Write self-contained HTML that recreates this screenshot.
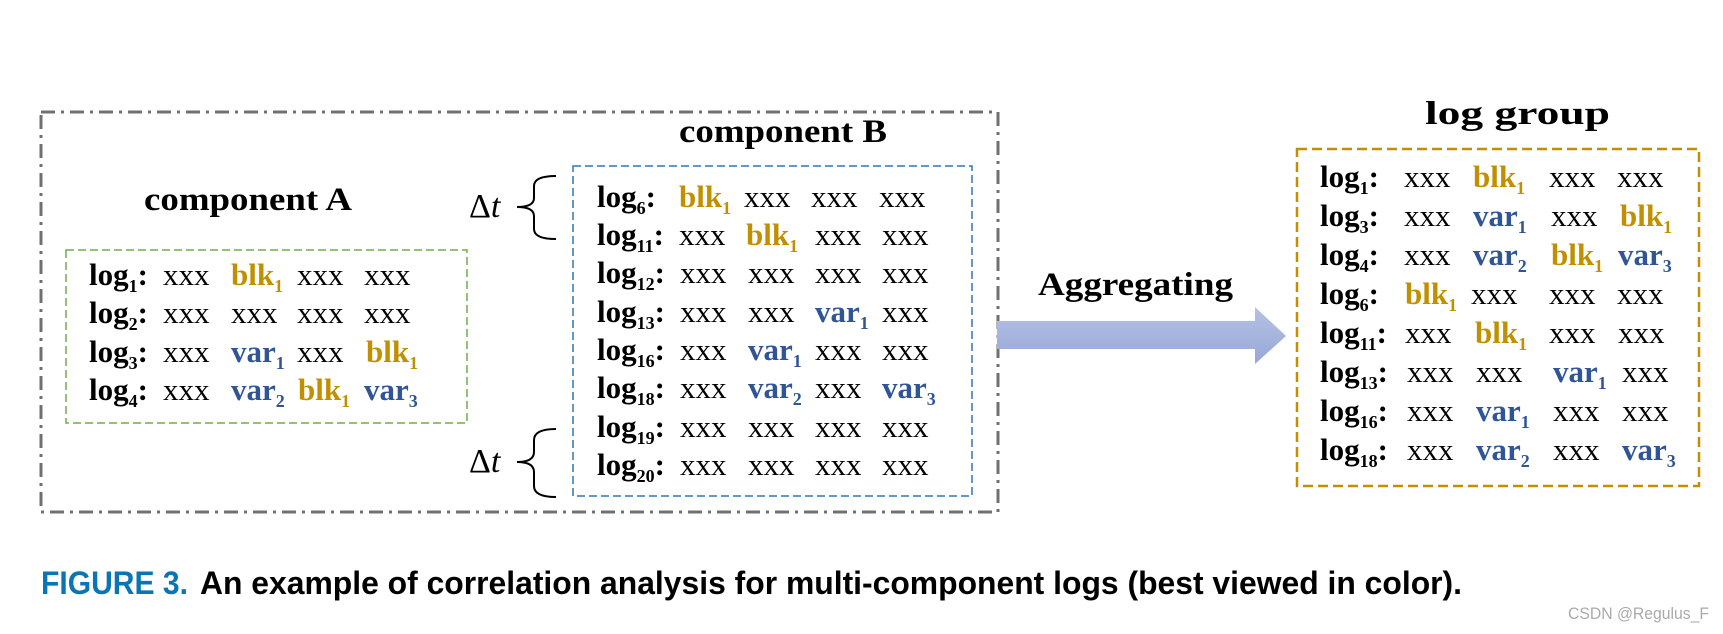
<!DOCTYPE html>
<html><head><meta charset="utf-8"><style>
html,body{margin:0;padding:0;background:#fff}
svg{display:block}
text{font-family:"Liberation Serif",serif;font-size:31px;fill:#000}
.b{font-weight:bold}
.s{font-size:18px}
.g{fill:#C09000;font-weight:bold}
.v{fill:#2F5597;font-weight:bold}
.t{font-weight:bold;font-size:33px}
</style></head><body>
<svg width="1723" height="634" viewBox="0 0 1723 634" xmlns="http://www.w3.org/2000/svg">
<defs><linearGradient id="ag" x1="0" y1="0" x2="0" y2="1"><stop offset="0" stop-color="#b6c2e4"/><stop offset="1" stop-color="#97a7d7"/></linearGradient></defs>
<!-- boxes -->
<rect x="41" y="112" width="957" height="400" fill="none" stroke="#707070" stroke-width="3" stroke-dasharray="14,6,3,6"/>
<rect x="66" y="250" width="401" height="173" fill="none" stroke="#70AD47" stroke-width="1.5" stroke-dasharray="8,4"/>
<rect x="573" y="166" width="399" height="330" fill="none" stroke="#2E75B6" stroke-width="1.5" stroke-dasharray="8,4"/>
<rect x="1297" y="149" width="402" height="337" fill="none" stroke="#C09000" stroke-width="2.5" stroke-dasharray="10,5"/>
<!-- arrow -->
<path d="M997,321 L1255,321 L1255,307 L1286,336 L1255,364 L1255,349 L997,349 Z" fill="url(#ag)"/>
<!-- braces -->
<path d="M556,176 Q534,176 534,186 L534,198 Q534,207 517,207 Q534,207 534,216 L534,229 Q534,239 556,239" fill="none" stroke="#000" stroke-width="2"/>
<path d="M556,429 Q534,429 534,440 L534,452 Q534,462 517,462 Q534,462 534,472 L534,486 Q534,497 556,497" fill="none" stroke="#000" stroke-width="2"/>
<text x="469" y="217" style="font-size:34px">Δ<tspan font-style="italic">t</tspan></text>
<text x="469" y="472" style="font-size:34px">Δ<tspan font-style="italic">t</tspan></text>
<!-- titles -->
<text class="t" x="144" y="210" textLength="208" lengthAdjust="spacingAndGlyphs">component A</text>
<text class="t" x="679" y="142" textLength="208" lengthAdjust="spacingAndGlyphs">component B</text>
<text class="t" x="1425" y="124" textLength="185" lengthAdjust="spacingAndGlyphs">log group</text>
<text class="t" x="1038" y="295" textLength="195" lengthAdjust="spacingAndGlyphs">Aggregating</text>

<!-- component A -->
<text class="b" x="89" y="285">log<tspan class="s" dy="7">1</tspan><tspan dy="-7">:</tspan></text>
<text x="163" y="285">xxx</text><text class="g" x="231" y="285">blk<tspan class="s" dy="7">1</tspan></text><text x="297" y="285">xxx</text><text x="364" y="285">xxx</text>
<text class="b" x="89" y="323">log<tspan class="s" dy="7">2</tspan><tspan dy="-7">:</tspan></text>
<text x="163" y="323">xxx</text><text x="231" y="323">xxx</text><text x="297" y="323">xxx</text><text x="364" y="323">xxx</text>
<text class="b" x="89" y="362">log<tspan class="s" dy="7">3</tspan><tspan dy="-7">:</tspan></text>
<text x="163" y="362">xxx</text><text class="v" x="231" y="362">var<tspan class="s" dy="7">1</tspan></text><text x="297" y="362">xxx</text><text class="g" x="366" y="362">blk<tspan class="s" dy="7">1</tspan></text>
<text class="b" x="89" y="400">log<tspan class="s" dy="7">4</tspan><tspan dy="-7">:</tspan></text>
<text x="163" y="400">xxx</text><text class="v" x="231" y="400">var<tspan class="s" dy="7">2</tspan></text><text class="g" x="298" y="400">blk<tspan class="s" dy="7">1</tspan></text><text class="v" x="364" y="400">var<tspan class="s" dy="7">3</tspan></text>

<!-- component B -->
<text class="b" x="597" y="207">log<tspan class="s" dy="7">6</tspan><tspan dy="-7">:</tspan></text>
<text class="g" x="679" y="207">blk<tspan class="s" dy="7">1</tspan></text><text x="744" y="207">xxx</text><text x="811" y="207">xxx</text><text x="879" y="207">xxx</text>
<text class="b" x="597" y="245">log<tspan class="s" dy="7">11</tspan><tspan dy="-7">:</tspan></text>
<text x="679" y="245">xxx</text><text class="g" x="746" y="245">blk<tspan class="s" dy="7">1</tspan></text><text x="815" y="245">xxx</text><text x="882" y="245">xxx</text>
<text class="b" x="597" y="283">log<tspan class="s" dy="7">12</tspan><tspan dy="-7">:</tspan></text>
<text x="680" y="283">xxx</text><text x="748" y="283">xxx</text><text x="815" y="283">xxx</text><text x="882" y="283">xxx</text>
<text class="b" x="597" y="322">log<tspan class="s" dy="7">13</tspan><tspan dy="-7">:</tspan></text>
<text x="680" y="322">xxx</text><text x="748" y="322">xxx</text><text class="v" x="815" y="322">var<tspan class="s" dy="7">1</tspan></text><text x="882" y="322">xxx</text>
<text class="b" x="597" y="360">log<tspan class="s" dy="7">16</tspan><tspan dy="-7">:</tspan></text>
<text x="680" y="360">xxx</text><text class="v" x="748" y="360">var<tspan class="s" dy="7">1</tspan></text><text x="815" y="360">xxx</text><text x="882" y="360">xxx</text>
<text class="b" x="597" y="398">log<tspan class="s" dy="7">18</tspan><tspan dy="-7">:</tspan></text>
<text x="680" y="398">xxx</text><text class="v" x="748" y="398">var<tspan class="s" dy="7">2</tspan></text><text x="815" y="398">xxx</text><text class="v" x="882" y="398">var<tspan class="s" dy="7">3</tspan></text>
<text class="b" x="597" y="437">log<tspan class="s" dy="7">19</tspan><tspan dy="-7">:</tspan></text>
<text x="680" y="437">xxx</text><text x="748" y="437">xxx</text><text x="815" y="437">xxx</text><text x="882" y="437">xxx</text>
<text class="b" x="597" y="475">log<tspan class="s" dy="7">20</tspan><tspan dy="-7">:</tspan></text>
<text x="680" y="475">xxx</text><text x="748" y="475">xxx</text><text x="815" y="475">xxx</text><text x="882" y="475">xxx</text>

<!-- log group -->
<text class="b" x="1320" y="187">log<tspan class="s" dy="7">1</tspan><tspan dy="-7">:</tspan></text>
<text x="1404" y="187">xxx</text><text class="g" x="1473" y="187">blk<tspan class="s" dy="7">1</tspan></text><text x="1549" y="187">xxx</text><text x="1617" y="187">xxx</text>
<text class="b" x="1320" y="226">log<tspan class="s" dy="7">3</tspan><tspan dy="-7">:</tspan></text>
<text x="1404" y="226">xxx</text><text class="v" x="1473" y="226">var<tspan class="s" dy="7">1</tspan></text><text x="1551" y="226">xxx</text><text class="g" x="1620" y="226">blk<tspan class="s" dy="7">1</tspan></text>
<text class="b" x="1320" y="265">log<tspan class="s" dy="7">4</tspan><tspan dy="-7">:</tspan></text>
<text x="1404" y="265">xxx</text><text class="v" x="1473" y="265">var<tspan class="s" dy="7">2</tspan></text><text class="g" x="1551" y="265">blk<tspan class="s" dy="7">1</tspan></text><text class="v" x="1618" y="265">var<tspan class="s" dy="7">3</tspan></text>
<text class="b" x="1320" y="304">log<tspan class="s" dy="7">6</tspan><tspan dy="-7">:</tspan></text>
<text class="g" x="1405" y="304">blk<tspan class="s" dy="7">1</tspan></text><text x="1471" y="304">xxx</text><text x="1549" y="304">xxx</text><text x="1617" y="304">xxx</text>
<text class="b" x="1320" y="343">log<tspan class="s" dy="7">11</tspan><tspan dy="-7">:</tspan></text>
<text x="1405" y="343">xxx</text><text class="g" x="1475" y="343">blk<tspan class="s" dy="7">1</tspan></text><text x="1549" y="343">xxx</text><text x="1618" y="343">xxx</text>
<text class="b" x="1320" y="382">log<tspan class="s" dy="7">13</tspan><tspan dy="-7">:</tspan></text>
<text x="1407" y="382">xxx</text><text x="1476" y="382">xxx</text><text class="v" x="1553" y="382">var<tspan class="s" dy="7">1</tspan></text><text x="1622" y="382">xxx</text>
<text class="b" x="1320" y="421">log<tspan class="s" dy="7">16</tspan><tspan dy="-7">:</tspan></text>
<text x="1407" y="421">xxx</text><text class="v" x="1476" y="421">var<tspan class="s" dy="7">1</tspan></text><text x="1553" y="421">xxx</text><text x="1622" y="421">xxx</text>
<text class="b" x="1320" y="460">log<tspan class="s" dy="7">18</tspan><tspan dy="-7">:</tspan></text>
<text x="1407" y="460">xxx</text><text class="v" x="1476" y="460">var<tspan class="s" dy="7">2</tspan></text><text x="1553" y="460">xxx</text><text class="v" x="1622" y="460">var<tspan class="s" dy="7">3</tspan></text>

<!-- caption -->
<text x="41" y="594" style="font-family:'Liberation Sans',sans-serif;font-weight:bold;font-size:32px;fill:#0A75B5" textLength="147" lengthAdjust="spacingAndGlyphs">FIGURE 3.</text>
<text x="200" y="594" style="font-family:'Liberation Sans',sans-serif;font-weight:bold;font-size:32px;fill:#000" textLength="1262" lengthAdjust="spacingAndGlyphs">An example of correlation analysis for multi-component logs (best viewed in color).</text>
<text x="1568" y="619" style="font-family:'Liberation Sans',sans-serif;font-size:17px;fill:#aaa" textLength="141" lengthAdjust="spacingAndGlyphs">CSDN @Regulus_F</text>
</svg>
</body></html>
